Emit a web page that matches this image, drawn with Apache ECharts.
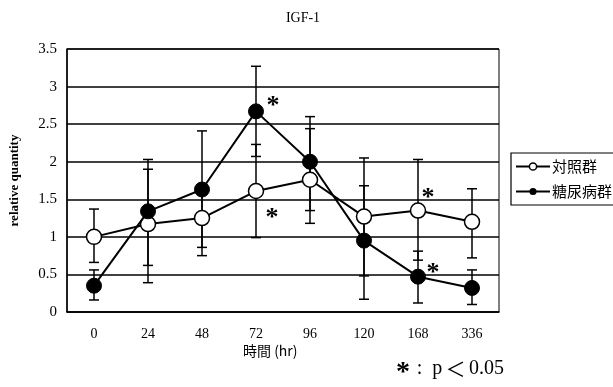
<!DOCTYPE html>
<html>
<head>
<meta charset="utf-8">
<script src="https://cdn.jsdelivr.net/npm/echarts@6/dist/echarts.min.js"></script>
<style>
  html, body { margin: 0; padding: 0; background: #fff; }
  #chart { width: 613px; height: 387px; }
</style>
</head>
<body>
<div id="chart"></div>
<script>
var hours = ['0', '24', '48', '72', '96', '120', '168', '336']
var yTicks = [0, 0.5, 1, 1.5, 2, 2.5, 3, 3.5]

// 対照群 (control)
var ctrlMean = [1.0, 1.17, 1.25, 1.61, 1.76, 1.27, 1.35, 1.2]
var ctrlLow = [0.66, 0.39, 0.75, 0.99, 1.18, 0.48, 0.69, 0.72]
var ctrlHigh = [1.37, 1.9, 1.6, 2.23, 2.44, 2.05, 2.03, 1.64]

// 糖尿病群 (diabetic)
var dmMean = [0.35, 1.34, 1.63, 2.67, 2.0, 0.95, 0.47, 0.32]
var dmLow = [0.16, 0.62, 0.86, 2.07, 1.35, 0.17, 0.12, 0.1]
var dmHigh = [0.56, 2.03, 2.41, 3.27, 2.6, 1.68, 0.81, 0.56]

// significant points: [category index, value, label dx, label dy]
var sigPoints = [
  [3, 2.67, 17, -11],
  [3, 1.61, 16, 21],
  [6, 1.35, 10, -18],
  [6, 0.47, 15, -9]
]

var serif = '"Liberation Serif", "DejaVu Serif", serif'
var cjk = '"Noto Sans CJK JP", sans-serif'

function errData(low, high) {
  return low.map(function (v, i) { return [i, v, high[i]] })
}

function renderErr(params, api) {
  var x = api.value(0)
  var lo = api.coord([x, api.value(1)])
  var hi = api.coord([x, api.value(2)])
  var w = 5
  var style = { stroke: '#000', lineWidth: 1.5 }
  return {
    type: 'group',
    children: [
      { type: 'line', shape: { x1: lo[0], y1: lo[1], x2: hi[0], y2: hi[1] }, style: style },
      { type: 'line', shape: { x1: lo[0] - w, y1: lo[1], x2: lo[0] + w, y2: lo[1] }, style: style },
      { type: 'line', shape: { x1: hi[0] - w, y1: hi[1], x2: hi[0] + w, y2: hi[1] }, style: style }
    ]
  }
}

var chart = echarts.init(document.getElementById('chart'))
chart.setOption({
  animation: false,
  title: {
    text: 'IGF-1',
    left: 298,
    top: 6,
    textAlign: 'center',
    textStyle: { fontFamily: serif, fontSize: 14, fontWeight: 'normal', color: '#000' }
  },
  legend: {
    data: [
      { name: '対照群', itemStyle: { color: '#fff', borderColor: '#000', borderWidth: 1.5 } },
      { name: '糖尿病群', itemStyle: { color: '#000', borderColor: '#000' } }
    ],
    orient: 'vertical',
    left: 511,
    top: 153,
    itemWidth: 34,
    itemHeight: 9,
    itemGap: 10,
    padding: [6, 8, 6, 4],
    borderColor: '#000',
    borderWidth: 1.2,
    textStyle: { fontFamily: cjk, fontSize: 15, color: '#000', padding: [0, 0, 0, -3] }
  },
  grid: { left: 67, right: 114, top: 49, bottom: 75 },
  xAxis: {
    type: 'category',
    data: hours,
    boundaryGap: true,
    axisLine: { lineStyle: { color: '#000', width: 1.5 } },
    axisTick: { inside: true, length: 5, interval: 0, lineStyle: { color: '#000', width: 1.5 } },
    axisLabel: { fontFamily: serif, fontSize: 14, color: '#000', margin: 15 }
  },
  yAxis: {
    type: 'value',
    min: 0,
    max: 3.5,
    interval: 0.5,
    name: 'relative quantity',
    nameLocation: 'middle',
    nameGap: 46,
    nameTextStyle: { fontFamily: serif, fontSize: 13, fontWeight: 'bold', color: '#000' },
    axisLine: { show: true, lineStyle: { color: '#000', width: 1.5 } },
    axisTick: { show: false },
    axisLabel: {
      fontFamily: serif, fontSize: 15, color: '#000', margin: 10,
      formatter: function (v) { return yTicks.indexOf(v) >= 0 ? String(v) : '' }
    },
    splitLine: { lineStyle: { color: '#000', width: 1.5 } }
  },
  graphic: [
    { type: 'rect', shape: { x: 67, y: 49, width: 432, height: 263 }, style: { fill: 'none', stroke: '#000', lineWidth: 1 }, silent: true },
    { type: 'text', left: 243, top: 344, style: { text: '時間 (hr)', font: '14px ' + cjk, fill: '#000' } },
    {
      type: 'text', left: 396, top: 359,
      style: {
        text: '{a|*}  {b|:  p} {c|＜} {b|0.05}',
        rich: {
          a: { fontFamily: serif, fontSize: 28, fontWeight: 'bold', fill: '#000', padding: [8, 0, 0, 0] },
          b: { fontFamily: serif, fontSize: 20, fill: '#000' },
          c: { fontFamily: cjk, fontSize: 20, fill: '#000' }
        }
      }
    }
  ],
  series: [
    { type: 'custom', renderItem: renderErr, data: errData(ctrlLow, ctrlHigh), z: 1, silent: true },
    { type: 'custom', renderItem: renderErr, data: errData(dmLow, dmHigh), z: 1, silent: true },
    {
      name: '対照群',
      type: 'line',
      data: ctrlMean,
      symbol: 'circle',
      symbolSize: 15,
      lineStyle: { color: '#000', width: 2 },
      itemStyle: { color: '#fff', borderColor: '#000', borderWidth: 1.5 },
      z: 3
    },
    {
      name: '糖尿病群',
      type: 'line',
      data: dmMean,
      symbol: 'circle',
      symbolSize: 15,
      lineStyle: { color: '#000', width: 2 },
      itemStyle: { color: '#000', borderColor: '#000' },
      z: 4
    },
    {
      type: 'scatter',
      symbol: 'circle',
      symbolSize: 1,
      itemStyle: { opacity: 0 },
      silent: true,
      data: sigPoints.map(function (p) {
        return {
          value: [p[0], p[1]],
          label: {
            show: true, position: 'inside', formatter: '*', offset: [p[2], p[3] + 6],
            fontFamily: serif, fontSize: 26, fontWeight: 'bold', color: '#000', opacity: 1
          }
        }
      }),
      z: 5
    }
  ]
})
</script>
</body>
</html>
